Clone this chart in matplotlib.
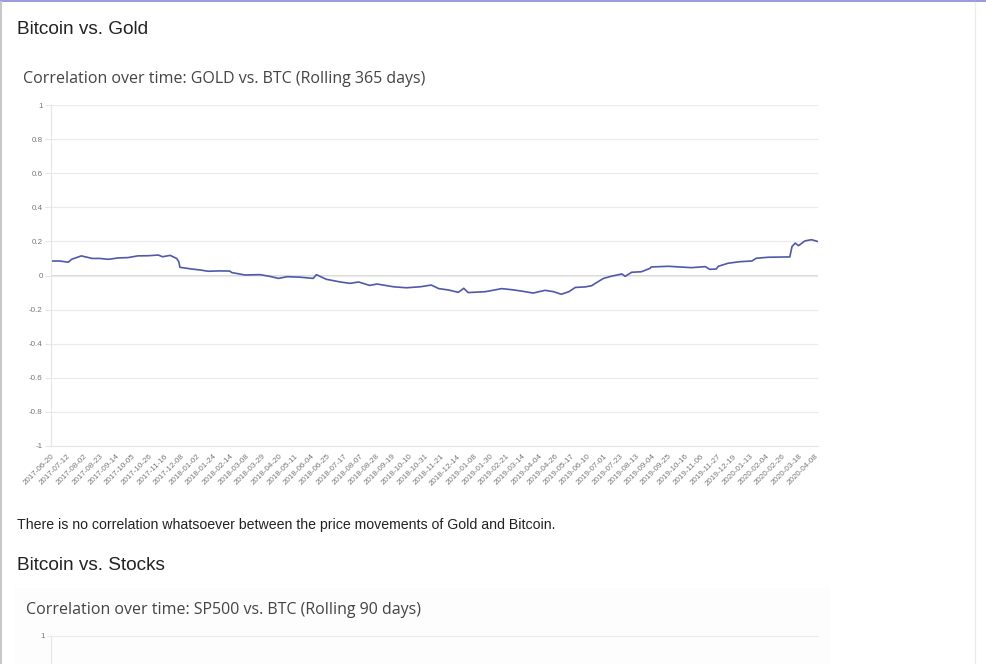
import matplotlib
matplotlib.use("Agg")
import matplotlib.pyplot as plt
from matplotlib.lines import Line2D
from matplotlib.patches import Rectangle

# ---------------- data ----------------
day_index = [0, 8, 16, 19, 28, 38, 45, 53, 62, 71, 80, 90, 99, 103, 110, 116, 118, 119,
             130, 138, 145, 156, 165, 167, 179, 193, 202, 210, 218, 230, 242, 245, 254,
             267, 276, 284, 294, 301, 316, 328, 341, 351, 358, 367, 376, 381, 385, 401,
             416, 425, 434, 445, 456, 464, 471, 478, 484, 493, 499, 504, 510, 518, 527,
             530, 536, 545, 553, 554, 570, 591, 604, 608, 614, 616, 625, 636, 647, 651,
             662, 682, 684, 687, 690, 696, 702, 708]
correlation = [0.085, 0.085, 0.078, 0.095, 0.115, 0.100, 0.100, 0.095, 0.103, 0.105,
               0.115, 0.116, 0.120, 0.110, 0.118, 0.100, 0.080, 0.048, 0.038, 0.032,
               0.025, 0.027, 0.026, 0.017, 0.003, 0.005, -0.005, -0.017, -0.007, -0.010,
               -0.017, 0.005, -0.022, -0.038, -0.046, -0.038, -0.058, -0.050, -0.066,
               -0.072, -0.066, -0.056, -0.077, -0.085, -0.099, -0.075, -0.100, -0.095,
               -0.077, -0.083, -0.091, -0.103, -0.087, -0.095, -0.110, -0.095, -0.070,
               -0.067, -0.060, -0.040, -0.017, -0.003, 0.009, -0.005, 0.019, 0.022,
               0.042, 0.050, 0.054, 0.046, 0.052, 0.036, 0.038, 0.054, 0.072, 0.081,
               0.085, 0.101, 0.107, 0.109, 0.170, 0.190, 0.175, 0.203, 0.210, 0.199]

tick_labels = ["2017-06-20", "2017-07-12", "2017-08-02", "2017-08-23", "2017-09-14",
               "2017-10-05", "2017-10-26", "2017-11-16", "2017-12-08", "2018-01-02",
               "2018-01-24", "2018-02-14", "2018-03-08", "2018-03-29", "2018-04-20",
               "2018-05-11", "2018-06-04", "2018-06-25", "2018-07-17", "2018-08-07",
               "2018-08-28", "2018-09-19", "2018-10-10", "2018-10-31", "2018-11-21",
               "2018-12-14", "2019-01-08", "2019-01-30", "2019-02-21", "2019-03-14",
               "2019-04-04", "2019-04-26", "2019-05-17", "2019-06-10", "2019-07-01",
               "2019-07-23", "2019-08-13", "2019-09-04", "2019-09-25", "2019-10-16",
               "2019-11-06", "2019-11-27", "2019-12-19", "2020-01-13", "2020-02-04",
               "2020-02-26", "2020-03-18", "2020-04-08"]
tick_step = 15
y_ticks = [1, 0.8, 0.6, 0.4, 0.2, 0, -0.2, -0.4, -0.6, -0.8, -1]
y_tick_labels = ["1", "0.8", "0.6", "0.4", "0.2", "0", "-0.2", "-0.4", "-0.6", "-0.8", "-1"]

# ---------------- figure ----------------
W, H = 986, 664
fig = plt.figure(figsize=(W / 100, H / 100), dpi=100)
fig.patch.set_facecolor("white")

def fx(px):
    return px / W

def fy(py):
    return 1 - py / H

# page decorations
fig.add_artist(Rectangle((0, fy(2)), 1, 2 / H, transform=fig.transFigure,
                         color="#9a9ce0", lw=0))
fig.add_artist(Line2D([fx(1), fx(1)], [0, fy(2)], transform=fig.transFigure,
                      color="#c8c8c8", lw=1.5))
fig.add_artist(Line2D([fx(975), fx(975)], [0, fy(2)], transform=fig.transFigure,
                      color="#ececec", lw=1))

HEAD = "Liberation Sans"
TITLE = "Open Sans"

fig.text(fx(17), fy(29), "Bitcoin vs. Gold", fontsize=13.7, family=HEAD,
         color="#222222", va="center", ha="left")
fig.text(fx(23), fy(79), "Correlation over time: GOLD vs. BTC (Rolling 365 days)",
         fontsize=11.5, family=TITLE, color="#444444", va="center", ha="left")

# ---------------- main chart ----------------
left, right, top, bottom = 51, 818, 105, 446
ax = fig.add_axes([fx(left), fy(bottom), fx(right - left), (bottom - top) / H])
ax.set_facecolor("none")
ax.plot(day_index, correlation, color="#5058a8", lw=1.2, solid_joinstyle="round")
ax.set_xlim(0, day_index[-1])
ax.set_ylim(-1, 1)

ax.set_yticks(y_ticks)
ax.set_yticklabels(y_tick_labels)
ax.yaxis.grid(True, color="#ebebeb", lw=0.8)
ax.axhline(0, color="#d4d4d4", lw=1.2, zorder=0.5)
ax.set_axisbelow(True)
ax.tick_params(axis="y", length=4, width=0.8, color="#e5e5e5", labelsize=5.8,
               labelcolor="#777777", pad=2)
for lab in ax.get_yticklabels():
    lab.set_family(HEAD)

xt = [i * tick_step for i in range(len(tick_labels))]
ax.set_xticks(xt)
ax.set_xticklabels(tick_labels, rotation=45, ha="right", va="top",
                   rotation_mode="anchor", fontsize=5.8, color="#777777", family=HEAD)
ax.tick_params(axis="x", length=0, pad=5)

for s in ["top", "right"]:
    ax.spines[s].set_visible(False)
ax.spines["left"].set_color("#e5e5e5")
ax.spines["left"].set_linewidth(0.8)
ax.spines["bottom"].set_color("#e5e5e5")
ax.spines["bottom"].set_linewidth(0.8)

# ---------------- text below ----------------
fig.text(fx(17), fy(525),
         "There is no correlation whatsoever between the price movements of Gold and Bitcoin.",
         fontsize=10.2, family=HEAD, color="#222222", va="center", ha="left")
fig.text(fx(17), fy(566), "Bitcoin vs. Stocks", fontsize=13.7, family=HEAD,
         color="#222222", va="center", ha="left")

# faint panel of the next chart
fig.add_artist(Rectangle((fx(14), 0), fx(830 - 14), fy(588), transform=fig.transFigure,
                         facecolor="#fdfdfd", edgecolor="none", zorder=-1))
fig.text(fx(26), fy(610), "Correlation over time: SP500 vs. BTC (Rolling 90 days)",
         fontsize=11.5, family=TITLE, color="#444444", va="center", ha="left")
fig.add_artist(Line2D([fx(47), fx(818)], [fy(636), fy(636)], transform=fig.transFigure,
                      color="#ebebeb", lw=0.8))
fig.add_artist(Line2D([fx(51), fx(51)], [fy(636), 0], transform=fig.transFigure,
                      color="#e5e5e5", lw=0.8))
fig.text(fx(45), fy(636), "1", fontsize=5.8, family=HEAD, color="#777777",
         va="center", ha="right")

fig.savefig("out.png", dpi=100)
